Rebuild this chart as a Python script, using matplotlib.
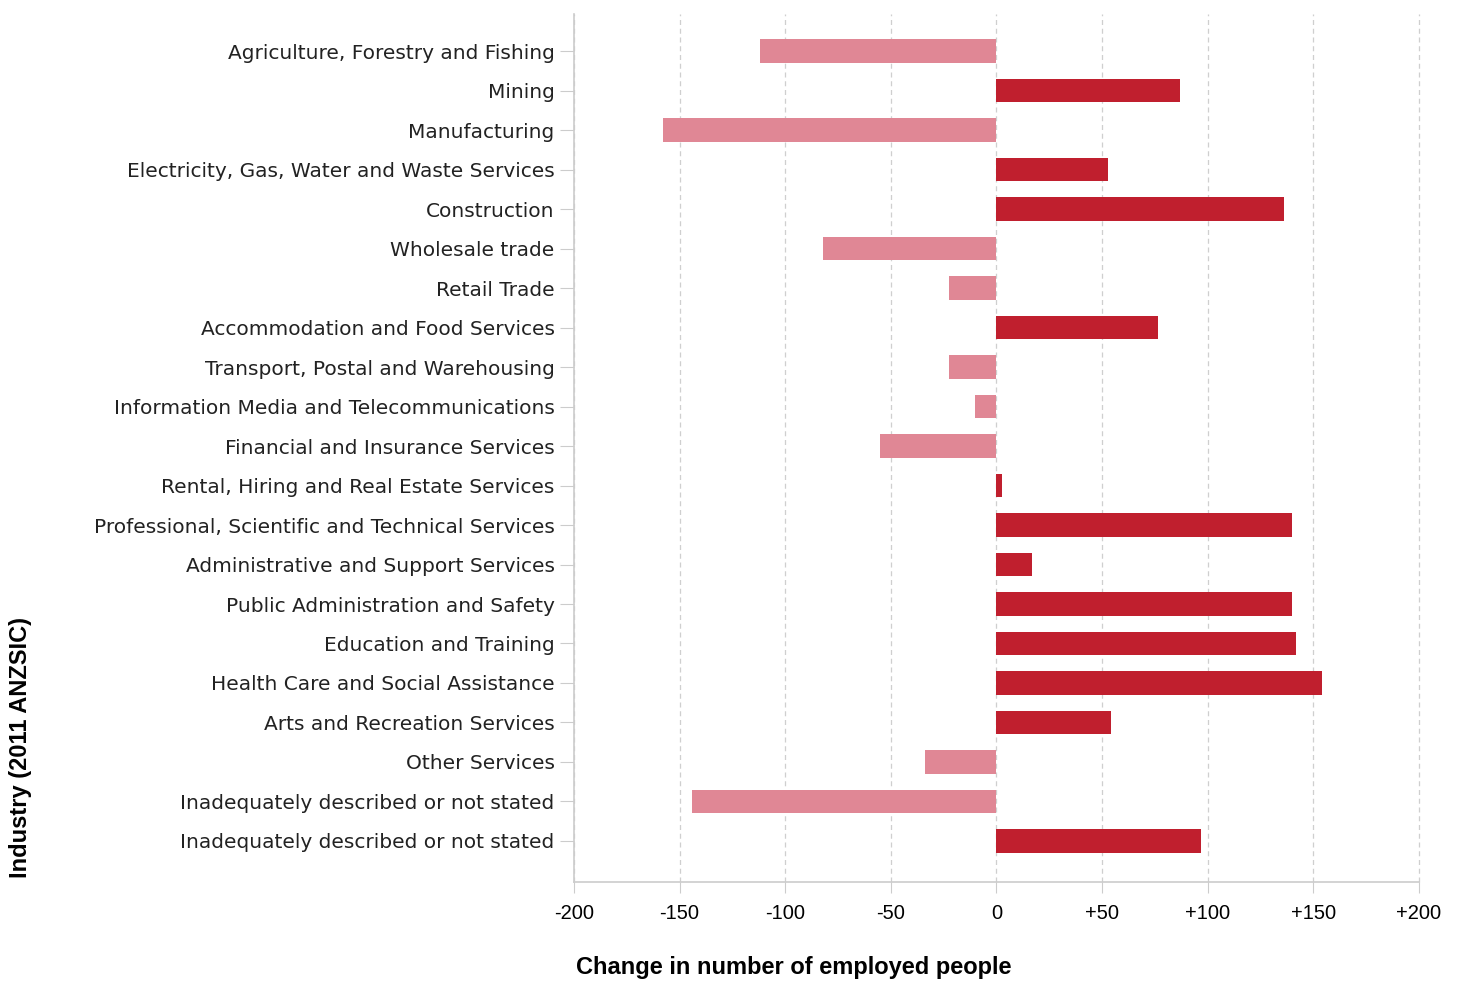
import matplotlib
matplotlib.use('Agg')
import numpy as np
import matplotlib.pyplot as plt

industries = [
    'Agriculture, Forestry and Fishing',
    'Mining',
    'Manufacturing',
    'Electricity, Gas, Water and Waste Services',
    'Construction',
    'Wholesale trade',
    'Retail Trade',
    'Accommodation and Food Services',
    'Transport, Postal and Warehousing',
    'Information Media and Telecommunications',
    'Financial and Insurance Services',
    'Rental, Hiring and Real Estate Services',
    'Professional, Scientific and Technical Services',
    'Administrative and Support Services',
    'Public Administration and Safety',
    'Education and Training',
    'Health Care and Social Assistance',
    'Arts and Recreation Services',
    'Other Services',
    'Inadequately described or not stated',
    'Inadequately described or not stated',
]
changes = [-112, 87, -158, 53, 136, -82, -22.5, 76.5, -22.5, -10, -55,
           2.6, 140, 17, 140, 142, 154, 54, -34, -144, 97]
xticks = [-200, -150, -100, -50, 0, 50, 100, 150, 200]
xticklabels = ['-200', '-150', '-100', '-50', '0', '+50', '+100', '+150', '+200']

POS_COLOR = '#C01F2E'
NEG_COLOR = '#E08795'

fig = plt.figure(figsize=(14.62, 9.81), dpi=100)
ax = fig.add_axes([0.3926, 0.1009, 0.578, 0.8848])

y_pos = np.arange(len(industries))
colors = [POS_COLOR if v >= 0 else NEG_COLOR for v in changes]
ax.barh(y_pos, changes, height=0.6, color=colors, zorder=3)

ax.set_xlim(-200, 200)
ax.set_ylim(len(industries) - 1 + 1.04, -0.94)
ax.set_xticks(xticks)
ax.set_xticklabels(xticklabels, fontsize=14.5, family=['Liberation Sans Narrow', 'Liberation Sans'])
ax.set_yticks(y_pos)
ax.set_yticklabels(industries, fontsize=14.5, color='#222222')

ax.grid(axis='x', linestyle=(0, (4, 3)), color='#cfcfcf', linewidth=0.9, zorder=0)
for gl in ax.get_xgridlines():
    gl.set_clip_on(False)
for s in ['top', 'right']:
    ax.spines[s].set_visible(False)
for s in ['left', 'bottom']:
    ax.spines[s].set_color('#cccccc')
    ax.spines[s].set_linewidth(1.2)
ax.tick_params(axis='y', length=10, color='#cccccc', pad=4)
ax.tick_params(axis='x', length=8, color='#cccccc', pad=8)

ax.set_xlabel('Change in number of employed people', fontsize=17, fontweight='bold',
              family=['Liberation Sans Narrow', 'Liberation Sans'])
ax.xaxis.set_label_coords(0.26, -0.085)
fig.text(0.014, 0.2385, 'Industry (2011 ANZSIC)', rotation=90, fontsize=17,
         fontweight='bold', family=['Liberation Sans Narrow', 'Liberation Sans'],
         ha='center', va='center')

fig.savefig('out.png', dpi=100)
